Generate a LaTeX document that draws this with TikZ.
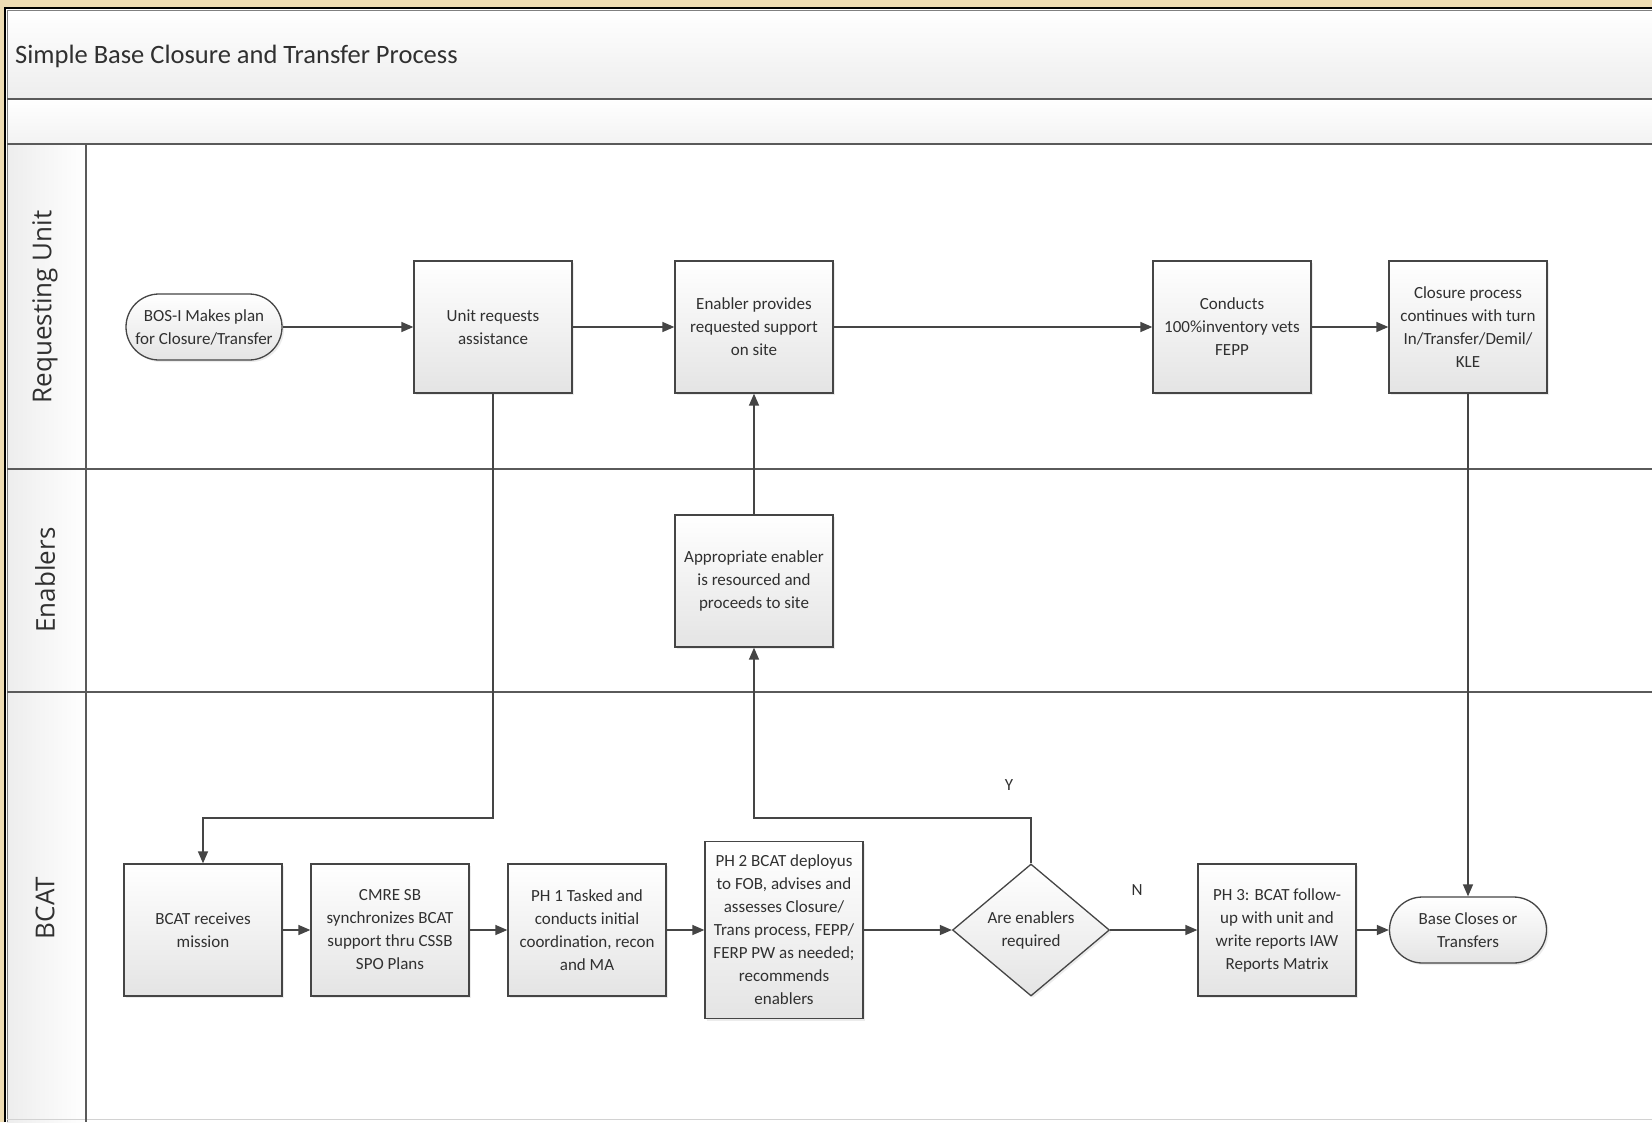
\documentclass[tikz,border=0pt]{standalone}
\usepackage{fontspec}
\setmainfont{Carlito}
\newfontfamily\lanefont{Open Sans}
\usetikzlibrary{arrows.meta,shapes.geometric,shapes.misc,shadows}

\definecolor{frametan}{HTML}{EEDCB3}
\definecolor{ink}{HTML}{303030}
\definecolor{edgegray}{HTML}{454545}
\definecolor{boxgray}{HTML}{E4E4E4}
\definecolor{bandgray}{HTML}{EDEDED}
\definecolor{laneline}{HTML}{5A5A5A}

\newcommand\flowtext{\fontsize{17}{23}\selectfont}

\begin{document}
\begin{tikzpicture}[x=1pt,y=-1pt,
  procbox/.style={rectangle, draw=edgegray, line width=1.3pt,
    top color=white, bottom color=boxgray,
    minimum width=158pt, minimum height=132pt, inner sep=0pt,
    align=center, font=\flowtext, text=ink,
    drop shadow={opacity=0.15, shadow xshift=2pt, shadow yshift=-2pt}},
  termbox/.style={procbox, rounded rectangle, minimum height=66pt},
  decbox/.style={procbox, diamond, aspect=1.19, minimum width=157pt, minimum height=132pt},
  flow/.style={draw=edgegray, line width=1.4pt,
    -{Triangle[length=12pt,width=10pt]}},
  lanesep/.style={draw=laneline, line width=1.5pt},
  lanelabel/.style={rotate=90, font=\lanefont\fontsize{26}{30}\selectfont, text=ink},
  flowlabel/.style={font=\flowtext, text=ink, inner sep=0pt}
]
% outer frame and panel
\fill[frametan] (0,0) rectangle (1652,1122);
\useasboundingbox (0,0) rectangle (1652,1122);
\fill[white] (5,8) rectangle (1652,1122);
\shade[top color=white, bottom color=bandgray] (7,10) rectangle (1652,99);
\shade[top color=white, bottom color=bandgray!70] (7,99) rectangle (1652,144);
\shade[left color=bandgray, right color=white] (7,144) rectangle (86,1122);
\draw[black, line width=1.6pt] (5,1122) -- (5,8) -- (1652,8);
\draw[gray, line width=0.8pt] (7.5,1122) -- (7.5,10.5) -- (1652,10.5);
\draw[gray!35, line width=1pt] (7,1119.5) -- (1652,1119.5);

% bands and lanes
\draw[lanesep] (7,99) -- (1652,99);
\draw[lanesep] (7,144) -- (1652,144);
\draw[lanesep] (7,469) -- (1652,469);
\draw[lanesep] (7,692) -- (1652,692);
\draw[lanesep] (86,144) -- (86,1122);

\node[anchor=west, inner sep=0pt, font=\fontsize{26.5}{30}\selectfont, text=ink] (title) at (15,56)
  {Simple Base Closure and Transfer Process};

\node[lanelabel] (laneReq) at (45,307) {Requesting Unit};
\node[lanelabel] (laneEn) at (45,580) {Enablers};
\node[lanelabel] (laneBcat) at (45,908) {BCAT};

% Requesting Unit lane
\node[termbox, minimum width=156pt] (bos) at (204,327) {BOS-I Makes plan\\for Closure/Transfer};
\node[procbox] (unit) at (493,327) {Unit requests\\assistance};
\node[procbox] (enprov) at (754,327) {Enabler provides\\requested support\\on site};
\node[procbox] (conducts) at (1232,327) {Conducts\\100\%inventory vets\\FEPP};
\node[procbox] (closure) at (1468,327) {Closure process\\continues with turn\\In/Transfer/Demil/\\KLE};

% Enablers lane
\node[procbox] (approp) at (754,581) {Appropriate enabler\\is resourced and\\proceeds to site};

% BCAT lane
\node[procbox] (bcatrec) at (203,930) {BCAT receives\\mission};
\node[procbox] (cmre) at (390,930) {CMRE SB\\synchronizes BCAT\\support thru CSSB\\SPO Plans};
\node[procbox] (ph1) at (587,930) {PH 1 Tasked and\\conducts initial\\coordination, recon\\and MA};
\node[procbox, minimum height=177pt] (ph2) at (784,930) {PH 2 BCAT deployus\\to FOB, advises and\\assesses Closure/\\Trans process, FEPP/\\FERP PW as needed;\\recommends\\enablers};
\node[decbox] (dec) at (1031,930) {Are enablers\\required};
\node[procbox] (ph3) at (1277,930) {PH 3: BCAT follow-\\up with unit and\\write reports IAW\\Reports Matrix};
\node[termbox, minimum width=157pt] (base) at (1468,930) {Base Closes or\\Transfers};

\coordinate (unitdrop) at (493,818);
\coordinate (yesrise) at (1031,818);

\node[flowlabel] (ylabel) at (1009,785) {Y};
\node[flowlabel] (nlabel) at (1137,890) {N};

% connectors
\draw[flow] (bos.east) -- (bos.east -| unit.west);
\draw[flow] (unit) -- (enprov);
\draw[flow] (enprov) -- (conducts);
\draw[flow] (conducts) -- (closure);
\draw[flow] (unit) -- (unitdrop) -| (bcatrec);
\draw[flow] (bcatrec) -- (cmre);
\draw[flow] (cmre) -- (ph1);
\draw[flow] (ph1) -- (ph2);
\draw[flow] (ph2) -- (dec);
\draw[flow] (dec) -- (yesrise) -| (approp);
\draw[flow] (approp) -- (enprov);
\draw[flow] (dec) -- (ph3);
\draw[flow] (ph3) -- (base);
\draw[flow] (closure) -- (base);
\end{tikzpicture}
\end{document}
